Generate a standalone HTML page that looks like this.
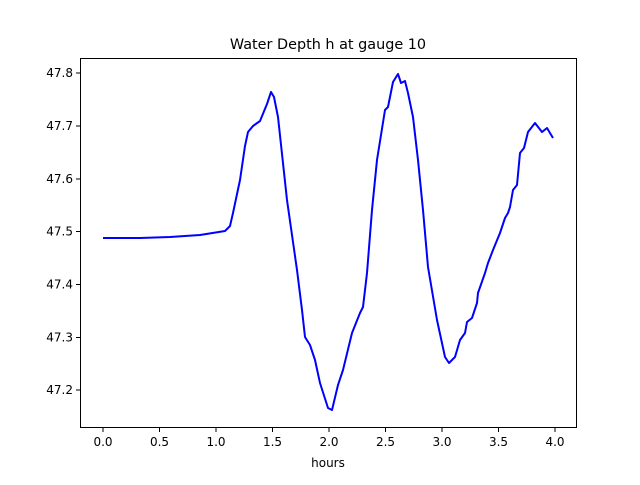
<!DOCTYPE html>
<html><head><style>
body{margin:0;background:#fff}
svg text{font-family:"DejaVu Sans","Liberation Sans",sans-serif;font-size:12px;fill:#000}
</style></head><body>
<svg width="640" height="480" xmlns="http://www.w3.org/2000/svg">
<rect width="640" height="480" fill="#fff"/>
<text x="328" y="49" text-anchor="middle" style="font-size:14.4px">Water Depth h at gauge 10</text>
<rect x="80.5" y="58.5" width="496" height="369" fill="none" stroke="#000" stroke-width="1"/>
<g stroke="#000">
<line x1="103" y1="428" x2="103" y2="432"/><line x1="159.5" y1="428" x2="159.5" y2="432"/>
<line x1="216" y1="428" x2="216" y2="432"/><line x1="272.5" y1="428" x2="272.5" y2="432"/>
<line x1="329" y1="428" x2="329" y2="432"/><line x1="385.5" y1="428" x2="385.5" y2="432"/>
<line x1="442" y1="428" x2="442" y2="432"/><line x1="498.5" y1="428" x2="498.5" y2="432"/>
<line x1="555" y1="428" x2="555" y2="432"/>
<line x1="76" y1="73" x2="80" y2="73"/><line x1="76" y1="126" x2="80" y2="126"/>
<line x1="76" y1="179" x2="80" y2="179"/><line x1="76" y1="231.5" x2="80" y2="231.5"/>
<line x1="76" y1="284.5" x2="80" y2="284.5"/><line x1="76" y1="337.5" x2="80" y2="337.5"/>
<line x1="76" y1="390" x2="80" y2="390"/>
</g>
<g text-anchor="middle">
<text x="103" y="446">0.0</text><text x="159.5" y="446">0.5</text><text x="216" y="446">1.0</text>
<text x="272.5" y="446">1.5</text><text x="329" y="446">2.0</text><text x="385.5" y="446">2.5</text>
<text x="442" y="446">3.0</text><text x="498.5" y="446">3.5</text><text x="555" y="446">4.0</text>
<text x="328" y="467">hours</text>
</g>
<g text-anchor="end">
<text x="73" y="77">47.8</text><text x="73" y="130">47.7</text><text x="73" y="183">47.6</text>
<text x="73" y="235.5">47.5</text><text x="73" y="288.5">47.4</text><text x="73" y="341.5">47.3</text>
<text x="73" y="394">47.2</text>
</g>
<polyline fill="none" stroke="#0000ff" stroke-width="2" stroke-linejoin="round" points="103,238 140,238 170,237 200,235 225,231 230,226 233,213 240,180 245,146 248,132 253,126 260,121 267,104 271,92 274,97 278,117 287,200 297,270 302,310 305,337 310,345 315,360 320,383 328,408 332,410 338,385 343,370 352,333 360,313 363,307 367,273 372,210 377,160 385,110 388,107 393,82 398,74 401,83 405,81 408,93 413,117 418,160 423,210 428,267 437,320 445,357 449,363 455,357 460,340 465,333 467,322 472,318 477,303 478,293 485,273 488,263 493,250 500,233 505,218 508,213 510,207 513,190 517,185 520,153 524,148 528,132 535,123 542,132 547,128 553,138"/>
</svg>
</body></html>
